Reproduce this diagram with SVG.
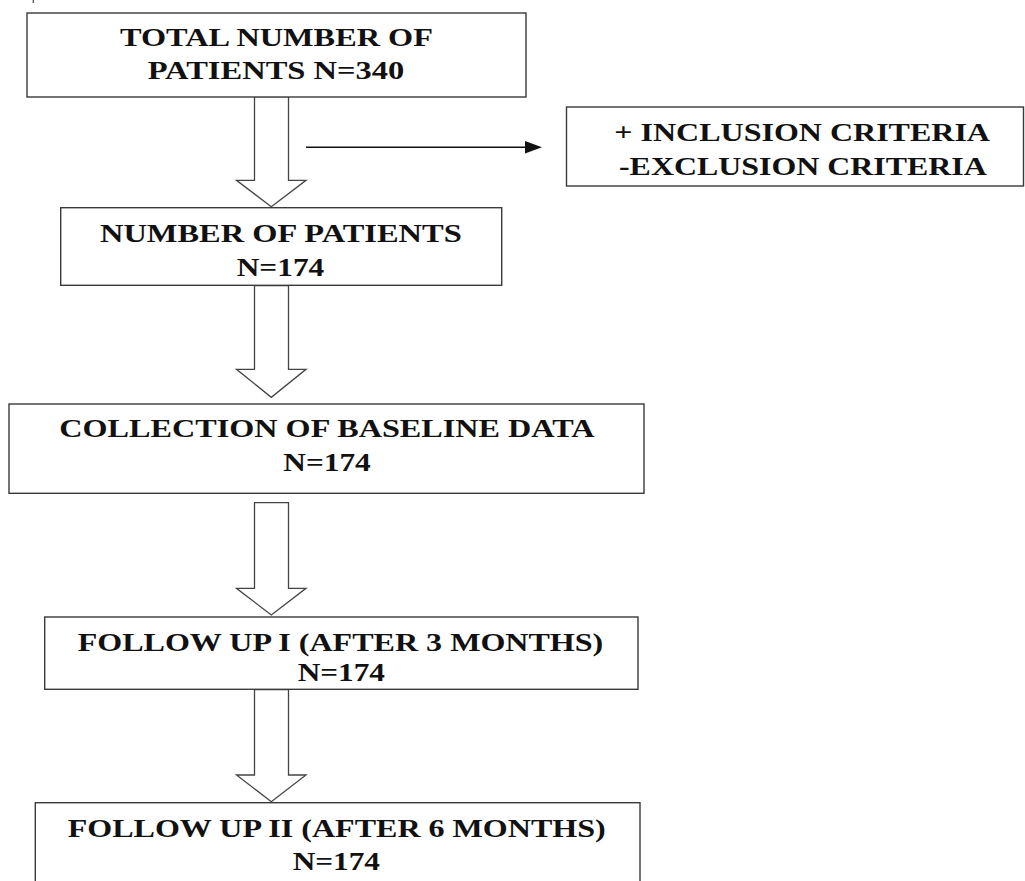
<svg xmlns="http://www.w3.org/2000/svg" width="1025" height="881" viewBox="0 0 1025 881">
<style>
.box{fill:#fff;stroke:#3a3a3a;stroke-width:1.4}
.blk{fill:#fff;stroke:#444;stroke-width:1.3;stroke-linejoin:miter}
.t{font-family:"Liberation Serif","Times New Roman",serif;font-weight:bold;font-size:25px;fill:#111}
</style>
<rect width="1025" height="881" fill="#fff"/>
<line x1="33.3" y1="0" x2="33.3" y2="3" stroke="#444" stroke-width="1.2"/>
<g id="connectors">
<polygon class="blk" points="254.5,96.5 288.5,96.5 288.5,180.3 306,180.3 271.3,206.7 236.5,180.3 254.5,180.3"/>
<polygon class="blk" points="254.5,285.5 288.5,285.5 288.5,369.3 306,369.3 271.3,397.3 236.5,369.3 254.5,369.3"/>
<polygon class="blk" points="254.5,502.7 288.5,502.7 288.5,588.3 306,588.3 271.3,615 236.5,588.3 254.5,588.3"/>
<polygon class="blk" points="254.5,689.5 288.5,689.5 288.5,775 306,775 271.3,801.7 236.5,775 254.5,775"/>
<line x1="306" y1="147.3" x2="526" y2="147.3" stroke="#111" stroke-width="1.4"/>
<polygon points="525,141 542,147.3 525,153.6" fill="#111"/>
</g>
<g id="node-total">
<rect class="box" x="27" y="13" width="499" height="84"/>
<text class="t" x="120" y="45.7" textLength="313" lengthAdjust="spacingAndGlyphs">TOTAL NUMBER OF</text>
<text class="t" x="147.7" y="79.3" textLength="256.6" lengthAdjust="spacingAndGlyphs">PATIENTS N=340</text>
</g>
<g id="node-criteria">
<rect class="box" x="566.5" y="107" width="457" height="79"/>
<text class="t" x="614.3" y="141" textLength="375.7" lengthAdjust="spacingAndGlyphs">+ INCLUSION CRITERIA</text>
<text class="t" x="619" y="174.5" textLength="367.8" lengthAdjust="spacingAndGlyphs">-EXCLUSION CRITERIA</text>
</g>
<g id="node-patients">
<rect class="box" x="60.7" y="207.7" width="441" height="77.6"/>
<text class="t" x="100" y="241.7" textLength="361.7" lengthAdjust="spacingAndGlyphs">NUMBER OF PATIENTS</text>
<text class="t" x="236.7" y="276" textLength="87.6" lengthAdjust="spacingAndGlyphs">N=174</text>
</g>
<g id="node-baseline">
<rect class="box" x="9" y="404" width="635" height="89.3"/>
<text class="t" x="59.3" y="437.3" textLength="535.2" lengthAdjust="spacingAndGlyphs">COLLECTION OF BASELINE DATA</text>
<text class="t" x="283.3" y="470.7" textLength="87.4" lengthAdjust="spacingAndGlyphs">N=174</text>
</g>
<g id="node-followup1">
<rect class="box" x="44.7" y="617" width="593.3" height="72.3"/>
<text class="t" x="77.7" y="650.7" textLength="525.6" lengthAdjust="spacingAndGlyphs">FOLLOW UP I (AFTER 3 MONTHS)</text>
<text class="t" x="297.7" y="680.7" textLength="87.3" lengthAdjust="spacingAndGlyphs">N=174</text>
</g>
<g id="node-followup2">
<rect class="box" x="35.3" y="802.7" width="604.7" height="90"/>
<text class="t" x="67.7" y="837.3" textLength="538" lengthAdjust="spacingAndGlyphs">FOLLOW UP II (AFTER 6 MONTHS)</text>
<text class="t" x="292.7" y="870" textLength="87.3" lengthAdjust="spacingAndGlyphs">N=174</text>
</g>
</svg>
